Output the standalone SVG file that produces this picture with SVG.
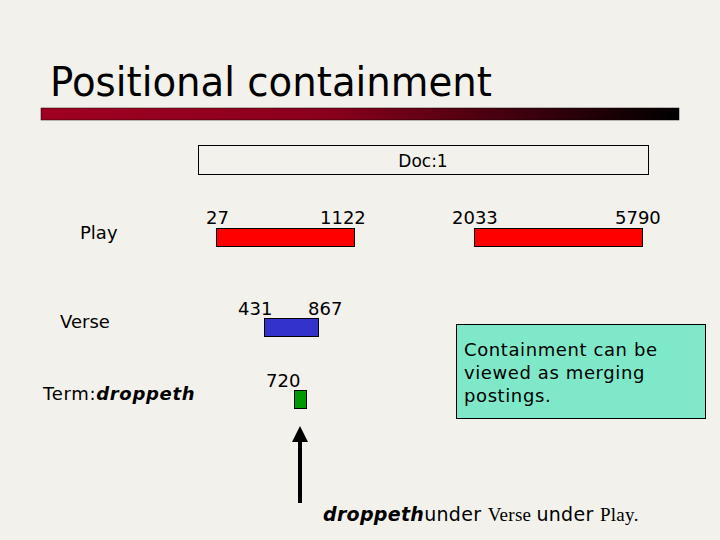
<svg xmlns="http://www.w3.org/2000/svg" width="720" height="540" viewBox="0 0 720 540">
<defs>
<linearGradient id="bar" x1="0" y1="0" x2="1" y2="0">
<stop offset="0" stop-color="#a00022"/>
<stop offset="0.45" stop-color="#8a001c"/>
<stop offset="1" stop-color="#000000"/>
</linearGradient>
<marker id="ah" markerWidth="4" markerHeight="4" refX="2" refY="2" orient="auto" markerUnits="strokeWidth">
<path d="M0,0 L4,2 L0,4 z" fill="#000"/>
</marker>
<style>
.s{font-family:"DejaVu Sans","Liberation Sans",sans-serif;fill:#000}
.sf{font-family:"Liberation Serif",serif;fill:#000}
.lbl{font-size:18px}
.bar{stroke:#000;stroke-width:1}
</style>
</defs>
<rect width="720" height="540" fill="#f3f1eb"/>
<text x="50" y="96" class="s" font-size="40" textLength="442" lengthAdjust="spacingAndGlyphs">Positional containment</text>
<rect x="41" y="108" width="638" height="12" fill="url(#bar)" stroke="#000" stroke-width="0.5"/>

<g id="doc">
<rect x="198.5" y="145.5" width="450" height="29" fill="none" stroke="#000"/>
<text x="423" y="167" class="s" font-size="17" text-anchor="middle">Doc:1</text>
</g>

<g id="play-label"><text x="80" y="239" class="s lbl">Play</text></g>
<g id="verse-label"><text x="60" y="328" class="s lbl">Verse</text></g>
<g id="term-label"><text x="43" y="400" class="s lbl" letter-spacing="0.7">Term:<tspan font-weight="bold" font-style="italic">droppeth</tspan></text></g>

<g id="play1">
<rect x="216.5" y="228.5" width="138" height="18" fill="#ff0000" class="bar"/>
<text x="206" y="224" class="s lbl">27</text>
<text x="320" y="224" class="s lbl">1122</text>
</g>
<g id="play2">
<rect x="474.5" y="228.5" width="168" height="18" fill="#ff0000" class="bar"/>
<text x="452" y="224" class="s lbl">2033</text>
<text x="615" y="224" class="s lbl">5790</text>
</g>
<g id="verse1">
<rect x="264.5" y="318.5" width="54" height="18" fill="#3333cc" class="bar"/>
<text x="238" y="315" class="s lbl">431</text>
<text x="308" y="315" class="s lbl">867</text>
</g>
<g id="term1">
<rect x="294.5" y="390.5" width="12" height="18" fill="#009900" class="bar"/>
<text x="266" y="387" class="s lbl">720</text>
</g>

<g id="callout">
<rect x="456.5" y="324.5" width="249" height="94" fill="#7ee8c9" stroke="#000"/>
<g class="s lbl" letter-spacing="0.6">
<text x="464" y="356">Containment can be</text>
<text x="464" y="379">viewed as merging</text>
<text x="464" y="402">postings.</text>
</g>
</g>

<g id="connectors">
<line x1="300" y1="503" x2="300" y2="434" stroke="#000" stroke-width="4" marker-end="url(#ah)"/>
</g>

<g id="caption">
<text x="323" y="521" font-size="19" letter-spacing="0.3"><tspan class="s" font-weight="bold" font-style="italic">droppeth</tspan><tspan class="s">under </tspan><tspan class="sf">Verse </tspan><tspan class="s">under </tspan><tspan class="sf">Play.</tspan></text>
</g>
</svg>
